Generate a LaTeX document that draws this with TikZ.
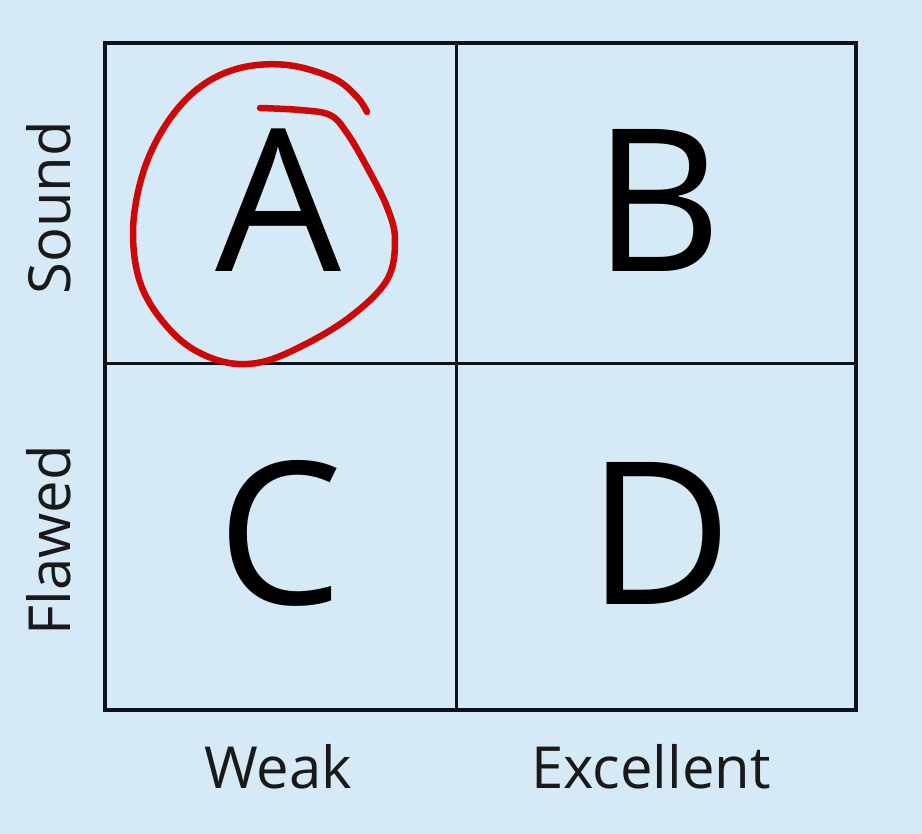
\documentclass[tikz,border=0pt]{standalone}
\usepackage{fontspec}
\setmainfont{Open Sans}
\definecolor{bgblue}{RGB}{214,233,246}
\definecolor{inkred}{RGB}{205,8,8}
\definecolor{gridline}{RGB}{15,18,25}
\begin{document}
\begin{tikzpicture}[x=1pt,y=-1pt,
  cell/.style={draw=gridline,line width=3.5pt,fill=bgblue},
  bigletter/.style={font=\fontsize{199}{200}\selectfont,inner sep=0pt,anchor=base},
  axislabel/.style={font=\fontsize{58}{60}\selectfont,inner sep=0pt,anchor=base,text=black!90}]
\fill[bgblue] (0,0) rectangle (922,834);
\useasboundingbox (0,0) rectangle (922,834);
\draw[cell] (105,43) rectangle (856,710);
\draw[gridline,line width=3pt] (456,43) -- (456,710);
\draw[gridline,line width=3pt] (105,364) -- (856,364);
\node[bigletter] (a) at (278,272) {A};
\node[bigletter] (b) at (658,272) {B};
\node[bigletter] (c) at (280,604) {C};
\node[bigletter] (d) at (660,604) {D};
\node[axislabel] (weak) at (278,788) {Weak};
\node[axislabel] (exc) at (651,788) {Excellent};
\node[axislabel,rotate=90] (sound) at (70,208) {Sound};
\node[axislabel,rotate=90] (flawed) at (70,540) {Flawed};
\draw[inkred,line width=6.5pt,line cap=round,line join=round] plot[smooth,tension=0.6] coordinates {
 (367,112) (357,97) (333,78) (287,65) (240,68) (200,87) (167,123) (143,173)
 (133,233) (143,290) (177,337) (217,360) (257,363) (300,347) (350,317)
 (387,280) (395,240) (387,207) (367,167) (347,133) (330,115) (300,110) (260,108)};
\end{tikzpicture}
\end{document}
